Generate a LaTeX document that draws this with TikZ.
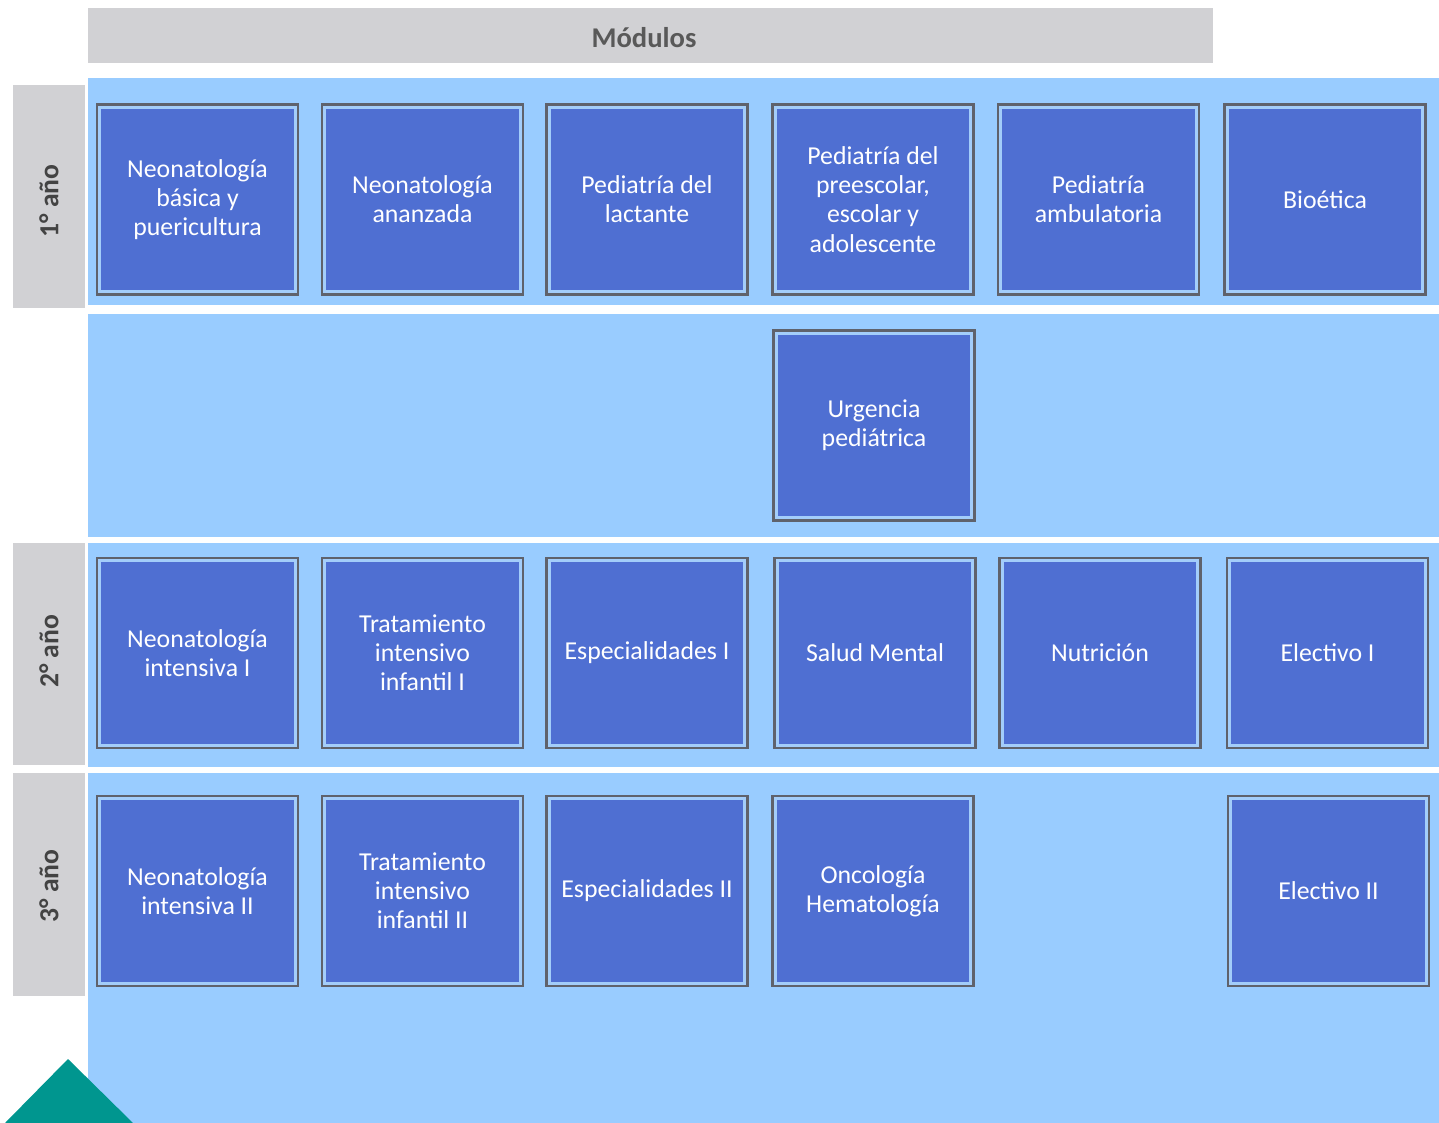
\documentclass[tikz,border=0pt]{standalone}
\usepackage{fontspec}
\setmainfont{Carlito}
\usetikzlibrary{positioning}
\definecolor{bandblue}{RGB}{153,204,255}
\definecolor{gapblue}{RGB}{163,205,250}
\definecolor{modblue}{RGB}{79,111,210}
\definecolor{edgegray}{RGB}{95,98,108}
\definecolor{headgray}{RGB}{209,209,212}
\definecolor{headtext}{RGB}{89,89,89}
\definecolor{teal}{RGB}{0,150,143}
\tikzset{module/.style={draw=edgegray,
                        line width=1.1pt,
                        fill=gapblue,
                        minimum width=100.5pt,
                        minimum height=95pt,
                        align=center,
                        text=white,
                        font=\fontsize{12.9}{14.6}\selectfont,
                        path picture={\fill[modblue]
                            ([shift={(2.2pt,-2.2pt)}]path picture bounding box.north west) rectangle
                            ([shift={(-2.2pt,2.2pt)}]path picture bounding box.south east);}
                        },
        yearlabel/.style={rotate=90,
                        text=headtext!75!black,
                        font=\fontsize{13.8}{15}\selectfont\bfseries
        },
        header/.style={text=headtext,
                        font=\fontsize{14.3}{16}\selectfont\bfseries
        },
}
\begin{document}
\begin{tikzpicture}
    [x=0.5pt,y=-0.5pt]
    \useasboundingbox (0,0) rectangle (1439,1123);

    % HEADER
    \fill[headgray] (88,8) rectangle (1213,63);
    \node[header] (modulos) at (644,38) {Módulos};

    % BANDS
    \fill[bandblue] (88,78) rectangle (1439,305);
    \fill[bandblue] (88,314) rectangle (1439,537);
    \fill[bandblue] (88,543) rectangle (1439,767);
    \fill[bandblue] (88,773) rectangle (1439,1123);

    % YEARS
    \fill[headgray] (13,85) rectangle (85,308);
    \fill[headgray] (13,543) rectangle (85,765);
    \fill[headgray] (13,773) rectangle (85,996);
    \node[yearlabel] (year1) at (49,201) {1° año};
    \node[yearlabel] (year2) at (49,651.5) {2° año};
    \node[yearlabel] (year3) at (49,886) {3° año};

    % FIRST YEAR
    \node[module] (neoBasica) at (197.5,199.5) {Neonatología\\básica y\\puericultura};
    \node[module] (neoAvanzada) at (422.5,199.5) {Neonatología\\ananzada};
    \node[module] (pedLactante) at (647,199.5) {Pediatría del\\lactante};
    \node[module] (pedPreescolar) at (873,199.5) {Pediatría del\\preescolar,\\escolar y\\adolescente};
    \node[module] (pedAmbulatoria) at (1098.5,199.5) {Pediatría\\ambulatoria};
    \node[module] (bioetica) at (1325,199.5) {Bioética};

    \node[module] (urgencia) at (874,425.5) {Urgencia\\pediátrica};

    % SECOND YEAR
    \node[module] (neoIntensivaI) at (197.5,653) {Neonatología\\intensiva I};
    \node[module] (tratamientoI) at (422.5,653) {Tratamiento\\intensivo\\infantil I};
    \node[module] (especialidadesI) at (647,653) {Especialidades I};
    \node[module] (saludMental) at (875,653) {Salud Mental};
    \node[module] (nutricion) at (1100,653) {Nutrición};
    \node[module] (electivoI) at (1327.5,653) {Electivo I};

    % THIRD YEAR
    \node[module] (neoIntensivaII) at (197.5,891) {Neonatología\\intensiva II};
    \node[module] (tratamientoII) at (422.5,891) {Tratamiento\\intensivo\\infantil II};
    \node[module] (especialidadesII) at (647,891) {Especialidades II};
    \node[module] (oncologia) at (873,891) {Oncología\\Hematología};
    \node[module] (electivoII) at (1328.5,891) {Electivo II};

    % CORNER
    \fill[teal] (5,1123) -- (68,1059) -- (133,1123) -- cycle;

\end{tikzpicture}
\end{document}
